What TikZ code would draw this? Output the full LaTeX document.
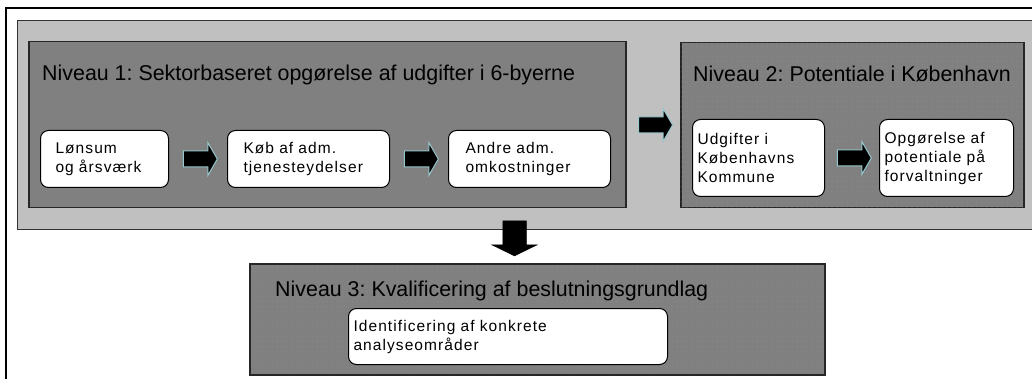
\documentclass[tikz,border=0pt]{standalone}
\usepackage{fontspec}
\setmainfont{Liberation Sans}
\newfontfamily\boxfont[LetterSpace=7]{Liberation Sans}
\usetikzlibrary{shapes.arrows,patterns.meta,calc}
\frenchspacing

\definecolor{bandgray}{RGB}{192,192,192}
\definecolor{levelgray}{RGB}{128,128,128}
\definecolor{dotgray}{RGB}{150,150,150}
\definecolor{arrowedge}{RGB}{150,200,205}

\tikzdeclarepattern{name=leveldots, type=uncolored,
  bounding box={(0pt,0pt) and (5pt,5pt)}, tile size={(5pt,5pt)},
  code={\fill (2.5pt,2.5pt) circle (0.6pt);}}

\begin{document}
\begin{tikzpicture}[x=1pt,y=-1pt,
  band/.style={fill=bandgray, draw=black!80, line width=1.2pt, anchor=north west, inner sep=0pt},
  levelbox/.style={fill=levelgray, draw=black!85, line width=1.5pt, anchor=north west, inner sep=0pt},
  dotlevelbox/.style={levelbox, postaction={pattern=leveldots, pattern color=dotgray}},
  leveltitle/.style={anchor=base west, inner sep=0pt, font=\fontsize{21.4}{24}\selectfont},
  stepbox/.style={draw, fill=white, line width=1pt, rounded corners=8pt, anchor=north west,
    align=left, inner ysep=0pt, font=\boxfont\fontsize{15.5}{19}\selectfont},
  rarrow/.style={single arrow, fill=black, draw=arrowedge, line width=1pt, inner xsep=0pt,
    inner ysep=7.5pt, minimum height=34pt, single arrow head extend=8.5pt,
    single arrow tip angle=120, single arrow head indent=0pt},
  darrow/.style={single arrow, fill=black, draw=black, line width=0.5pt, inner xsep=0pt,
    inner ysep=11.5pt, minimum height=35pt, single arrow head extend=11pt,
    single arrow tip angle=128, single arrow head indent=0pt, rotate=-90}
]
\useasboundingbox (0,0) rectangle (1032,379);

% frame and background band
\draw[line width=2pt] (1040,8) -- (6,8) -- (6,390);
\node[band, minimum width=1025pt, minimum height=209pt] (band) at (17,20) {};

% level 1
\node[levelbox, minimum width=597pt, minimum height=166pt] (lvl1) at (28,41) {};
\node[leveltitle] (t1) at (42,81) {Niveau 1: Sektorbaseret opgørelse af udgifter i 6-byerne};
\node[stepbox, minimum width=128pt, minimum height=57pt, text width=98pt, inner xsep=15pt] (lonsum) at (40,130) {Lønsum\\og årsværk};
\node[stepbox, minimum width=162pt, minimum height=57pt, text width=130pt, inner xsep=16pt] (kob) at (227,130) {Køb af adm.\\tjenesteydelser};
\node[stepbox, minimum width=162pt, minimum height=57pt, text width=128pt, inner xsep=17pt] (andre) at (448,130) {Andre adm.\\omkostninger};

% level 2
\node[dotlevelbox, minimum width=343pt, minimum height=165pt] (lvl2) at (680,42) {};
\node[leveltitle] (t2) at (693,82) {Niveau 2: Potentiale i København};
\node[stepbox, minimum width=132pt, minimum height=77pt, text width=122pt, inner xsep=5pt] (udg) at (692,119) {Udgifter i\\Københavns\\Kommune};
\node[stepbox, minimum width=134pt, minimum height=77pt, text width=124pt, inner xsep=5pt] (opg) at (879,119) {Opgørelse af\\potentiale på\\forvaltninger};

% level 3
\node[dotlevelbox, minimum width=575pt, minimum height=111pt] (lvl3) at (249,263) {};
\node[leveltitle] (t3) at (275,296) {Niveau 3: Kvalificering af beslutningsgrundlag};
\node[stepbox, minimum width=319pt, minimum height=56pt, text width=309pt, inner xsep=5pt] (ident) at (348,308) {Identificering af konkrete\\analyseområder};

% block arrows
\node[rarrow] (a1) at ($(lonsum.east)!0.5!(kob.west)$) {};
\node[rarrow] (a2) at ($(kob.east)!0.5!(andre.west)$) {};
\node[rarrow] (a3) at ($(lvl1.east)!0.5!(lvl2.west)$) {};
\node[rarrow] (a4) at ($(udg.east)!0.5!(opg.west)$) {};
\node[darrow] (a5) at (514.5,235.5) {};
\end{tikzpicture}
\end{document}
